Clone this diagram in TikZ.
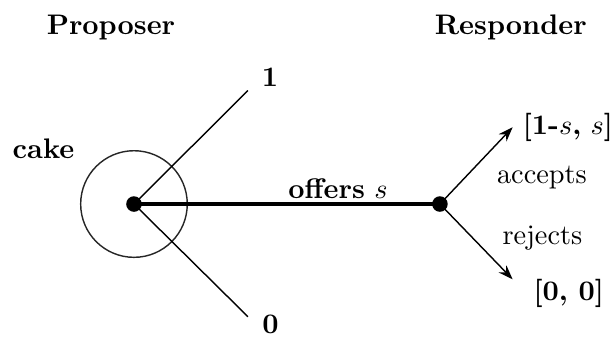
\documentclass[tikz,border=0pt]{standalone}
\usepackage{amsmath,amssymb}
\usetikzlibrary{arrows.meta,positioning}
\tikzset{
  decision/.style={circle,fill=black,inner sep=0pt,minimum size=5.5pt},
  pie/.style={circle,draw=black!85,line width=.5pt,minimum size=1.324cm,inner sep=0pt},
  branch/.style={draw=black,line width=.5pt},
  offerline/.style={draw=black,line width=1.1pt},
  reply/.style={-{Stealth[length=1.8mm,width=1.3mm]},draw=black,line width=.5pt},
  player/.style={font=\bfseries,inner sep=0pt},
  tag/.style={inner sep=0pt}
}

\begin{document}
\begin{tikzpicture}
  \useasboundingbox (-1.664,-1.640) rectangle (5.962,2.534);
  \node[pie] (cakering) at (0,0) {};
  \node[decision] (prop) at (0,0) {};
  \node[decision] (resp) at (3.80,0) {};
  \coordinate (one) at (1.416,1.410);
  \coordinate (zero) at (1.416,-1.400);
  \coordinate (acc) at (4.703,0.953);
  \coordinate (rej) at (4.703,-0.935);
  % branches of the proposer
  \draw[branch] (prop.center) -- (one);
  \draw[branch] (prop.center) -- (zero);
  \draw[offerline] (prop.center) -- (resp.center);
  % answers of the responder
  \draw[reply] (resp.center) -- (acc);
  \draw[reply] (resp.center) -- (rej);
  % labels
  \node[player] (proposer) at (-0.286,2.19) {Proposer};
  \node[player] (responder) at (4.68,2.19) {Responder};
  \node[player] (cakelabel) at (-1.124,0.689) {cake};
  \node[player] (onelabel) at (1.689,1.577) {1};
  \node[player] (zerolabel) at (1.695,-1.49) {0};
  \node[tag,anchor=base] (offerlabel) at (2.534,0.065) {\textbf{offers} $s$};
  \node[tag] (accpay) at (5.39,0.950) {\textbf{[1-}$s$\textbf{,} $s$\textbf{]}};
  \node[tag] (acclabel) at (5.067,0.335) {accepts};
  \node[tag] (rejlabel) at (5.073,-0.422) {rejects};
  \node[tag] (rejpay) at (5.40,-1.105) {\textbf{[0, 0]}};
\end{tikzpicture}
\end{document}
